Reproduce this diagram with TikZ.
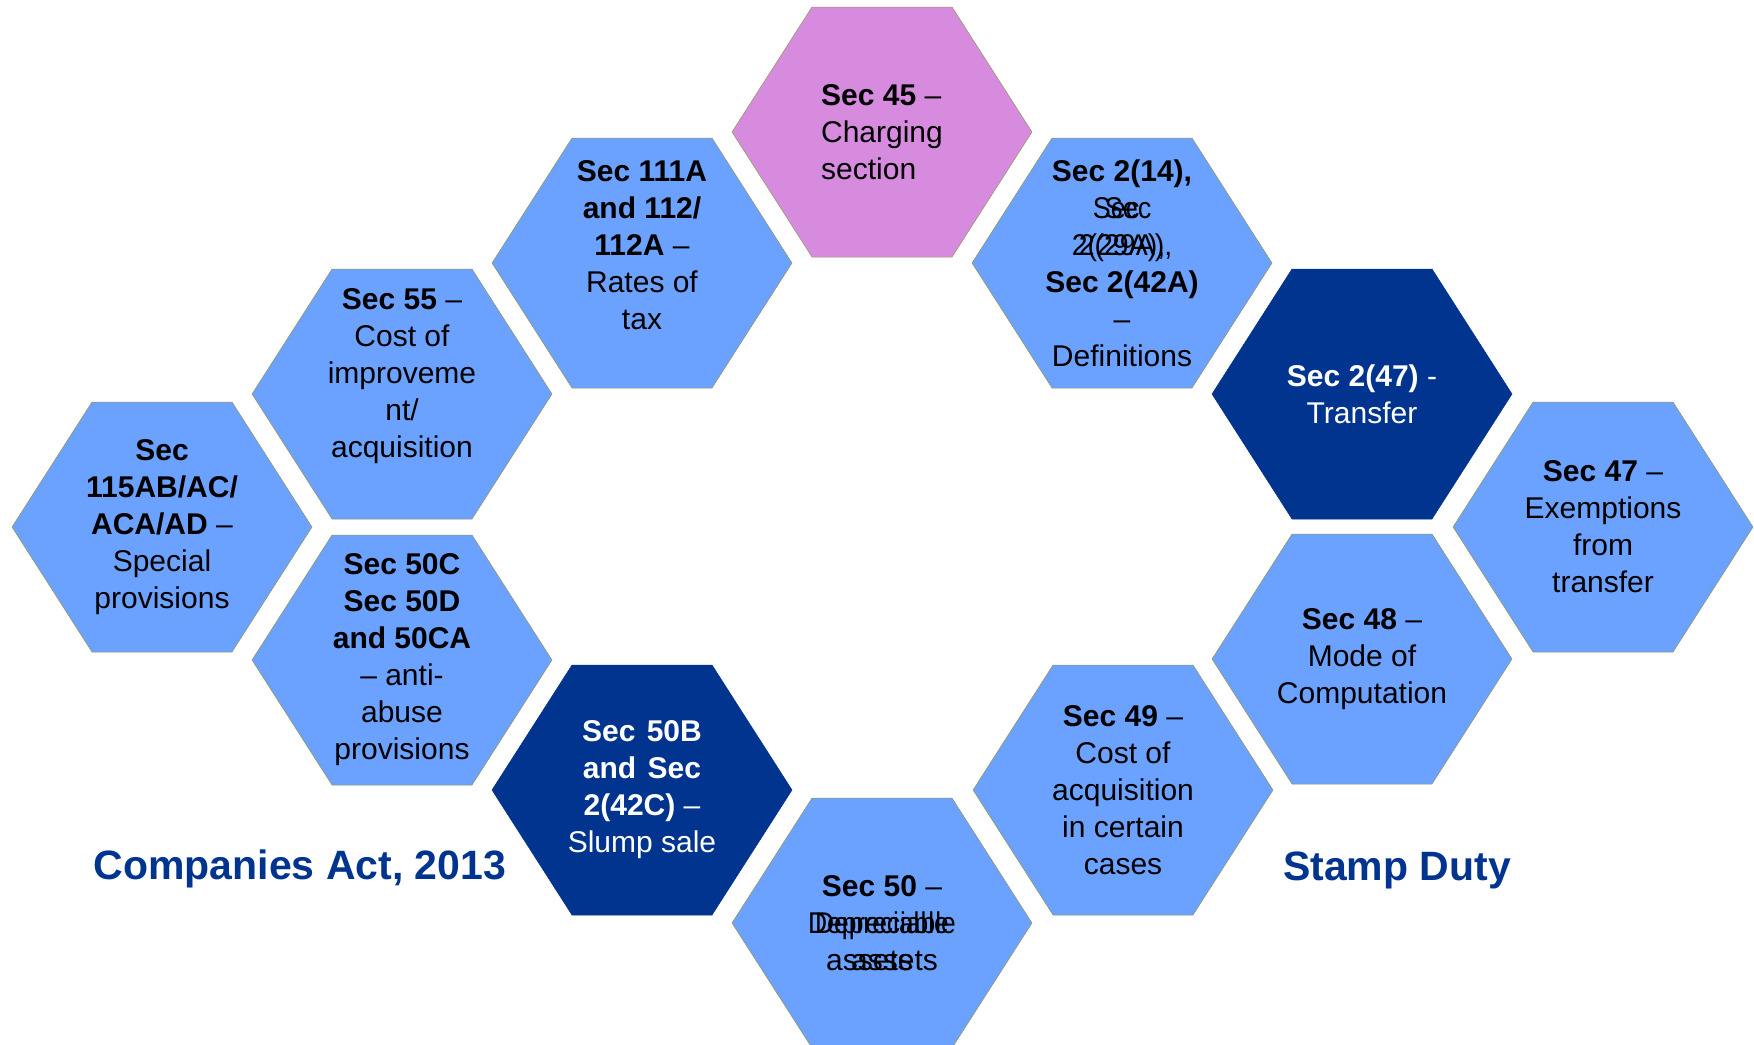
\documentclass[tikz,border=0pt]{standalone}
\usepackage{fontspec}
\setmainfont{Liberation Sans}
\usepackage{graphicx}
\usetikzlibrary{calc}
\definecolor{cellblue}{RGB}{107,161,255}
\definecolor{cellnavy}{RGB}{0,52,143}
\definecolor{cellpink}{RGB}{214,139,223}
\definecolor{celledge}{RGB}{150,150,90}
\tikzset{
  cell/.style={fill=cellblue,draw=celledge,line width=0.25pt},
  darkcell/.style={cell,fill=cellnavy,draw=cellnavy},
  pinkcell/.style={cell,fill=cellpink},
  txt/.style={font=\fontsize{15}{18.5}\selectfont,align=center,inner sep=0pt},
  title/.style={font=\fontsize{20.5}{24}\selectfont\bfseries,text=cellnavy,anchor=base},
}
% hexagon and its text: name, centre, fill style, text options, text
\newcommand{\hexcell}[5]{%
  \path[#3] ($(#2)+(-150,0)$) -- ++(80,-125) -- ++(140,0) -- ++(80,125)
    -- ++(-80,125) -- ++(-140,0) -- cycle;
  \node[txt,#4] (#1) at (#2) {#5};}
% a word set twice, the copies slightly apart
\newsavebox{\dupbox}
\newcommand{\twice}[3]{\sbox{\dupbox}{\scalebox{#2}[1]{#1}}%
  \hbox to \dimexpr\wd\dupbox+#3\relax{\rlap{\usebox{\dupbox}}\kern#3\relax\usebox{\dupbox}}}

\begin{document}
\begin{tikzpicture}[x=0.5pt,y=-0.5pt]
  \clip (0,0) rectangle (1754,1044);

  \hexcell{s45}{882,132}{pinkcell}{align=left}{\textbf{Sec 45} –\\Charging\\section}
  \hexcell{s111}{642,263}{cell}{yshift=9pt}{\textbf{Sec 111A}\\\textbf{and 112/}\\\textbf{112A} –\\Rates of\\tax}
  \hexcell{s55}{402,394}{cell}{yshift=9pt}{\textbf{Sec 55} –\\Cost of\\improveme\\nt/\\acquisition}
  \hexcell{s115}{162,527}{cell}{}{\textbf{Sec}\\\textbf{115AB/AC/}\\\textbf{ACA/AD} –\\Special\\provisions}
  \hexcell{s50c}{402,660}{cell}{}{\textbf{Sec 50C}\\\textbf{Sec 50D}\\\textbf{and 50CA}\\– anti-\\abuse\\provisions}
  \hexcell{s50b}{642,790}{darkcell}{text=white}{\textbf{Sec\hspace{1.5pt} 50B}\\\textbf{and\hspace{1.5pt} Sec}\\\textbf{2(42C)} –\\Slump sale}
  \hexcell{s50}{882,923}{cell}{}{\textbf{Sec 50} –\\\twice{Depreciable}{0.88}{3.5pt}\\\twice{assets}{1}{12.5pt}}
  \hexcell{s49}{1123,790}{cell}{}{\textbf{Sec 49} –\\Cost of\\acquisition\\in certain\\cases}
  \hexcell{s48}{1362,659}{cell}{}{\textbf{Sec 48} –\\Mode of\\Computation}
  \hexcell{s47}{1603,527}{cell}{}{\textbf{Sec 47} –\\Exemptions\\from\\transfer}
  \hexcell{s247}{1362,394}{darkcell}{text=white}{\textbf{Sec 2(47)} -\\Transfer}
  \hexcell{s214}{1122,263}{cell}{}{\textbf{Sec 2(14),}\\\twice{Sec}{0.9}{6pt}\\\twice{2(29A),}{0.95}{3.5pt}\\\textbf{Sec 2(42A)}\\–\\Definitions}

  \node[title] (ca) at (300,879) {Companies Act, 2013};
  \node[title] (sd) at (1397,880) {Stamp Duty};
\end{tikzpicture}
\end{document}
